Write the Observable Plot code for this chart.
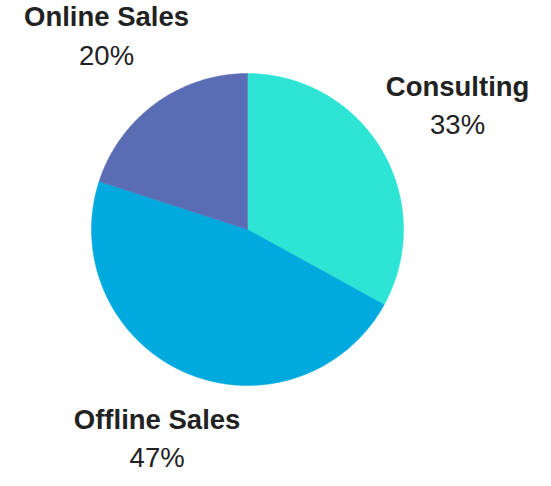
<!DOCTYPE html>
<html>
<head>
<meta charset="utf-8">
<script src="https://cdn.jsdelivr.net/npm/d3@7"></script>
<script src="https://cdn.jsdelivr.net/npm/@observablehq/plot@0.6"></script>
<style>
  html, body { margin: 0; padding: 0; background: #fff; }
  svg { display: block; }
</style>
</head>
<body>
<div id="chart"></div>
<script>
// Data
const categories = ["Consulting", "Offline Sales", "Online Sales"];
const shares = [33, 47, 20];
const colors = ["#2ee5d5", "#00aade", "#5a6cb3"];

// Layout
const W = 551, H = 486;
const CX = 247, CY = 229, R = 156;
const LABEL_R = 167;
const FONT = "'Liberation Sans', Arial, sans-serif";
const FS = 27.5;

const ctx = document.createElement("canvas").getContext("2d");
function textWidth(t, weight) {
  ctx.font = `${weight} ${FS}px 'Liberation Sans'`;
  return ctx.measureText(t).width;
}

const total = d3.sum(shares);
const pie = d3.pie().sort(null).value(d => d)(shares);

// Slice polygons
const slicePts = [];
const labels = [];
pie.forEach((p, i) => {
  const a0 = p.startAngle, a1 = p.endAngle;
  const n = Math.max(2, Math.ceil((a1 - a0) / 0.01));
  slicePts.push({cat: categories[i], x: CX, y: CY});
  for (let k = 0; k <= n; k++) {
    const a = a0 + (a1 - a0) * k / n;
    slicePts.push({cat: categories[i], x: CX + R * Math.sin(a), y: CY - R * Math.cos(a)});
  }
  slicePts.push({cat: categories[i], x: CX, y: CY});
  // label position
  const am = (a0 + a1) / 2;
  const ux = Math.sin(am), uy = -Math.cos(am);
  const pct = Math.round(shares[i] / total * 100) + "%";
  const w = Math.max(textWidth(categories[i], "bold"), textWidth(pct, "normal"));
  const h = 60;
  const off = LABEL_R + (w / 2) * Math.abs(ux) + (h / 2) * Math.abs(uy);
  const bx = CX + ux * off, by = CY + uy * off;
  labels.push({cat: categories[i], pct, x: bx, yName: by - 9.5, yPct: by + 29});
});

const chart = Plot.plot({
  width: W,
  height: H,
  margin: 0,
  x: {domain: [0, W], range: [0, W], axis: null},
  y: {domain: [0, H], range: [0, H], axis: null},
  color: {domain: categories, range: colors},
  marks: [
    ...categories.map((c, i) => Plot.line(slicePts.filter(d => d.cat === c), {
      x: "x", y: "y", fill: colors[i], stroke: colors[i], strokeWidth: 0.5
    })),
    Plot.text(labels, {x: "x", y: "yName", text: "cat", fontSize: FS, fontWeight: "bold",
      fontFamily: FONT, fill: "#222", textAnchor: "middle", lineAnchor: "bottom"}),
    Plot.text(labels, {x: "x", y: "yPct", text: "pct", fontSize: FS, fontWeight: "normal",
      fontFamily: FONT, fill: "#222", textAnchor: "middle", lineAnchor: "bottom"})
  ]
});
document.getElementById("chart").appendChild(chart);
</script>
</body>
</html>
